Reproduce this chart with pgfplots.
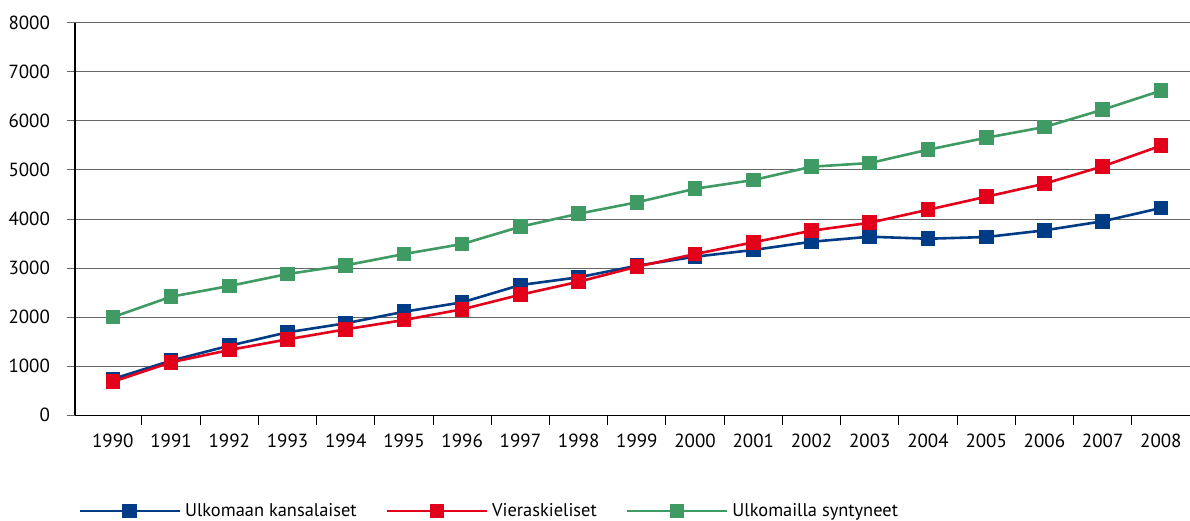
\documentclass[border=0pt]{standalone}
\usepackage{fontspec}
\setmainfont{PT Sans}
\usepackage{pgfplots}
\pgfplotsset{compat=1.18}
\definecolor{cblue}{HTML}{003B85}
\definecolor{cred}{HTML}{E2001A}
\definecolor{cgreen}{HTML}{3F9B63}
\begin{document}
\begin{tikzpicture}
\useasboundingbox (-37.5pt,-52.35pt) rectangle (557.5pt,207.65pt);
\begin{axis}[at={(0pt,0pt)}, anchor=south west, scale only axis,
  width=557.5pt, height=196.3pt,
  xmin=-0.65, xmax=18.5, ymin=0, ymax=8000,
  axis lines=left, axis line style={-, black, line width=0.6pt},
  xtick={0,...,18},
  xticklabels={1990,1991,1992,1993,1994,1995,1996,1997,1998,1999,2000,2001,2002,2003,2004,2005,2006,2007,2008},
  minor xtick={0.5,1.5,...,17.5},
  tick align=outside,
  major tick length=4pt, minor tick length=5pt,
  major x tick style={draw=none},
  minor x tick style={black, line width=0.5pt},
  ytick={0,1000,...,8000},
  ytick style={black!60, line width=0.5pt},
  ymajorgrids, grid style={black!60, line width=0.5pt},
  scaled y ticks=false,
  /pgf/number format/set thousands separator={},
  /pgf/number format/assume math mode=true,
  tick label style={font=\fontsize{9.5}{11}\selectfont, black},
  yticklabel style={xshift=-5pt},
  xticklabel style={yshift=-2pt},
  every axis plot/.append style={line width=1.3pt, mark=square*, mark size=3pt},
  legend image code/.code={\draw[mark repeat=2,mark phase=2,#1] plot coordinates {(0pt,0pt) (25pt,0pt) (50pt,0pt)};},
  legend style={at={(0.0027,-0.2438)}, anchor=west, draw=none, fill=none,
    legend columns=-1, inner sep=0pt,
    /tikz/every even column/.append style={column sep=12.5pt},
    font=\fontsize{9.2}{11}\selectfont},
]
\addplot[cblue, mark options={fill=cblue}] coordinates {
(0,740) (1,1113) (2,1418) (3,1691) (4,1875) (5,2110) (6,2302) (7,2655) (8,2812) (9,3048)
(10,3232) (11,3369) (12,3537) (13,3639) (14,3598) (15,3633) (16,3769) (17,3953) (18,4224)};
\addlegendentry{Ulkomaan kansalaiset}
\addplot[cred, mark options={fill=cred}] coordinates {
(0,685) (1,1080) (2,1330) (3,1548) (4,1752) (5,1942) (6,2160) (7,2457) (8,2722) (9,3028)
(10,3286) (11,3525) (12,3762) (13,3924) (14,4189) (15,4454) (16,4719) (17,5073) (18,5493)};
\addlegendentry{Vieraskieliset}
\addplot[cgreen, mark options={fill=cgreen}] coordinates {
(0,2000) (1,2417) (2,2635) (3,2879) (4,3056) (5,3286) (6,3490) (7,3843) (8,4108) (9,4340)
(10,4617) (11,4794) (12,5066) (13,5140) (14,5412) (15,5656) (16,5874) (17,6227) (18,6614)};
\addlegendentry{Ulkomailla syntyneet}
\end{axis}
\end{tikzpicture}
\end{document}
